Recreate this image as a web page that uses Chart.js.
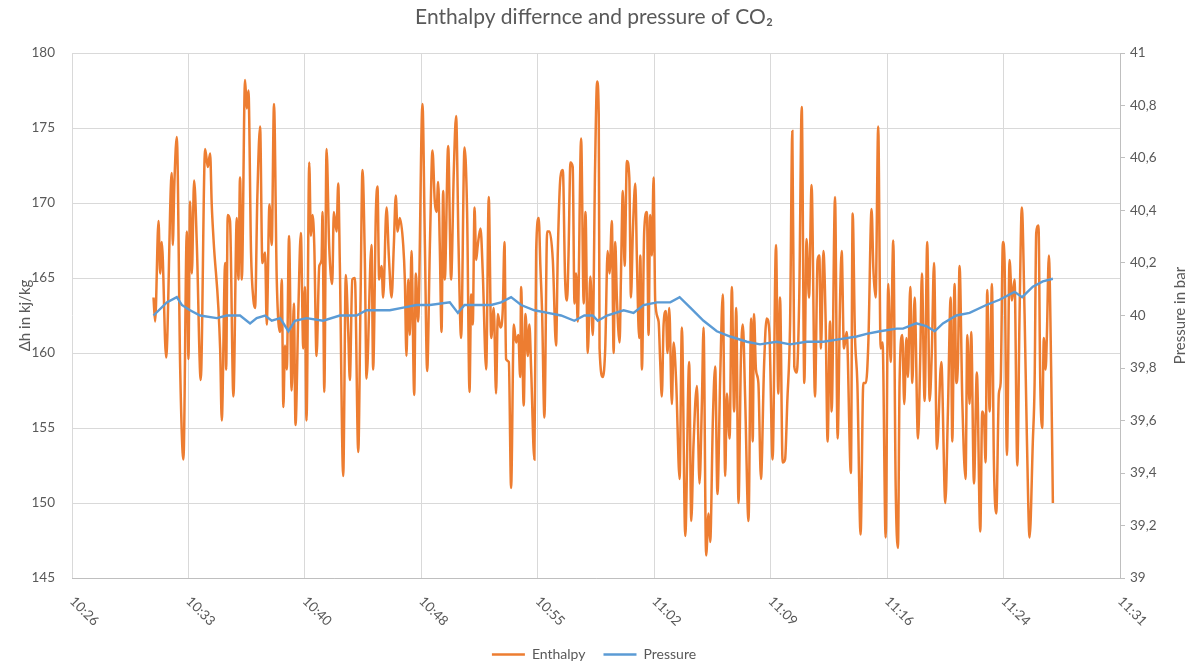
<!DOCTYPE html>
<html>
<head>
<meta charset="utf-8">
<script src="https://cdn.jsdelivr.net/npm/chart.js@4.4.1/dist/chart.umd.min.js"></script>
<style>
  html, body { margin: 0; padding: 0; background: #fff; }
  canvas { display: block; }
</style>
</head>
<body>
<canvas id="chart" width="1188" height="664"></canvas>
<script>
// times are minutes after 10:00
const enthalpyTime = [
  31.44,31.54,31.75,31.85,31.95,32.22,32.57,32.63,32.73,32.88,33.09,33.29,33.50,33.60,33.70,33.81,33.95,34.12,34.36,34.63,
  34.80,34.94,35.04,35.15,35.56,35.66,35.87,35.93,36.03,36.17,36.38,36.59,36.69,36.79,36.90,37.10,37.21,37.31,37.47,37.62,
  37.72,37.86,38.03,38.17,38.34,38.44,38.61,38.75,38.89,39.06,39.27,39.37,39.47,39.57,39.68,39.82,
  39.98,40.12,40.22,40.39,40.55,40.70,40.80,40.90,41.07,41.17,41.27,41.38,41.52,41.69,41.83,41.89,42.00,42.14,42.30,42.49,
  42.59,42.76,42.86,42.96,43.17,43.33,43.48,43.58,43.73,43.89,44.10,44.24,44.36,44.51,44.61,44.92,45.02,45.19,45.29,45.39,
  45.54,45.64,45.85,45.99,46.16,46.30,46.42,46.53,46.67,46.88,46.98,47.08,47.19,47.29,47.39,47.56,47.66,47.80,48.07,48.22,
  48.36,48.53,48.69,48.83,48.94,49.04,49.14,49.25,49.35,49.45,49.66,
  49.84,50.01,50.15,50.30,50.46,50.67,50.83,50.98,51.08,51.18,51.29,51.39,51.49,51.66,51.80,52.01,52.17,52.32,52.48,52.62,
  52.73,52.89,53.04,53.14,53.24,53.41,53.55,53.72,53.86,54.00,54.11,54.17,54.33,54.44,54.58,54.68,54.79,54.99,55.10,55.26,
  55.36,55.47,55.61,55.78,55.92,56.13,56.33,56.44,56.60,56.75,56.89,57.01,57.10,57.22,57.36,57.47,57.57,57.67,57.88,58.04,
  58.15,58.29,58.45,58.60,58.74,58.87,58.97,
  59.02,59.23,59.37,59.52,59.64,59.78,59.89,59.99,60.09,60.26,60.34,60.46,60.57,60.71,60.86,60.96,61.08,61.23,61.33,61.47,
  61.54,61.64,61.78,61.95,62.05,62.15,62.26,62.36,62.46,62.67,62.77,62.87,62.98,63.12,63.22,63.33,63.49,63.60,63.76,63.97,
  64.11,64.32,64.56,64.69,64.83,65.04,65.20,65.35,65.45,65.61,65.76,65.86,66.03,66.17,66.31,66.48,66.64,66.79,66.89,67.06,
  67.20,67.34,67.47,67.61,67.76,67.88,68.02,68.23,
  68.39,68.49,68.57,68.69,68.84,69.00,69.19,69.35,69.52,69.72,69.93,70.07,70.18,70.34,70.49,70.63,70.80,70.94,71.06,71.21,
  71.37,71.52,71.68,71.82,71.97,72.13,72.34,72.50,72.61,72.71,72.86,73.00,73.12,73.27,73.37,73.58,73.74,73.89,73.99,74.13,
  74.30,74.56,74.67,74.81,74.96,75.16,75.33,75.49,75.64,75.84,75.95,76.09,76.25,76.40,76.52,76.71,76.87,77.02,77.18,77.33,
  77.47,
  77.57,77.74,77.86,77.99,78.09,78.23,78.36,78.50,78.71,78.85,78.95,79.12,79.28,79.43,79.57,79.70,79.88,80.15,80.40,80.56,
  80.73,80.83,80.97,81.08,81.18,81.28,81.45,81.65,81.76,81.90,82.00,82.17,82.35,82.56,82.68,82.79,82.89,82.99,83.14,83.28,
  83.40,83.55,83.71,83.82,83.96,84.06,84.21,84.37,84.52,84.68,84.85,84.99,85.13,85.30,85.44,85.61,85.81,85.92,86.02,86.16,
  86.27,86.39,86.49,86.60,86.68,86.80,86.95,87.05
];
const enthalpyValue = [
  163.7,162.1,168.8,165.3,167.4,159.7,172.0,167.2,171.3,174.4,158.9,152.9,168.1,159.6,170.1,165.3,171.5,167.2,158.2,173.6,
  172.4,173.3,169.9,167.6,160.3,155.5,166.0,158.9,169.2,168.8,157.1,169.0,164.9,171.7,164.9,178.2,176.3,177.5,166.7,163.5,
  163.0,170.4,175.1,166.0,166.7,161.9,169.9,167.2,176.6,164.9,161.4,164.9,156.4,160.5,158.9,167.8,
  157.5,163.3,155.2,162.6,168.0,160.3,164.4,155.5,172.7,167.8,169.2,167.2,159.8,165.8,166.2,169.4,157.4,173.6,167.2,164.6,
  169.4,168.1,171.3,166.0,151.8,165.2,161.4,158.2,164.9,165.0,153.4,163.5,172.2,166.0,158.3,167.2,158.9,169.4,171.1,164.9,
  165.8,163.7,169.7,166.5,163.7,167.2,170.5,168.1,169.0,167.2,164.9,159.8,164.9,161.2,166.8,157.2,165.3,162.1,176.6,167.2,
  158.8,167.2,173.5,170.1,169.4,171.4,167.2,161.4,170.8,164.9,173.8,
  164.9,172.2,175.8,167.2,161.0,173.7,169.4,157.4,163.9,161.9,169.7,166.2,167.2,168.3,165.3,158.9,170.4,161.0,163.0,157.3,
  162.6,161.7,163.0,167.4,159.6,159.4,151.0,161.9,160.7,161.2,158.4,164.4,156.5,162.6,159.8,161.9,158.9,152.9,166.8,169.0,
  165.8,162.6,155.7,168.1,168.1,166.2,160.5,166.8,171.7,172.2,164.9,163.5,166.5,172.7,172.4,163.3,165.3,162.1,174.3,163.3,
  169.4,160.0,165.1,161.2,172.2,178.1,175.9,
  160.3,158.4,160.3,166.8,165.3,168.8,160.0,167.4,163.7,160.7,164.9,170.8,165.8,172.8,171.7,163.7,168.1,171.3,166.2,161.0,
  166.5,158.9,168.1,169.4,161.2,169.2,166.5,171.7,163.5,162.1,159.4,157.1,161.9,162.8,160.0,163.0,156.6,160.7,158.0,151.6,
  161.7,147.8,159.4,148.8,153.9,157.8,151.3,156.8,161.7,146.5,149.3,147.4,155.7,159.1,150.6,158.4,163.9,151.8,157.3,154.3,
  164.4,156.1,163.0,150.0,159.6,161.9,157.1,148.8,
  162.3,154.1,162.6,158.9,158.0,151.6,159.1,162.3,161.4,152.9,167.2,157.3,163.7,152.7,152.9,156.8,161.9,174.8,159.1,158.7,
  163.9,176.4,158.0,167.6,163.7,171.2,157.1,166.2,166.5,160.3,166.8,162.1,154.1,162.1,156.1,170.4,154.3,163.5,166.8,160.3,
  161.4,152.0,169.3,161.2,158.0,147.9,158.0,158.0,160.7,169.6,165.6,163.7,175.1,160.3,160.7,147.7,164.6,159.4,167.5,151.1,
  147.0,
  158.0,161.2,156.6,161.0,158.4,164.4,158.0,163.7,154.3,159.8,165.3,156.8,167.4,156.8,160.3,166.0,153.6,159.4,150.0,156.1,
  163.7,154.1,164.6,158.0,159.4,165.8,156.8,151.6,161.2,156.6,161.4,151.3,158.7,148.1,156.1,155.7,152.7,164.2,156.1,164.6,
  152.9,149.3,157.3,158.0,167.4,166.2,153.2,166.2,163.5,164.9,152.5,162.6,169.7,162.6,154.5,147.7,154.1,158.0,168.0,168.5,
  158.0,155.0,161.0,158.9,161.2,166.5,158.4,150.0
];

const pressureTime = [
  31.44,32.26,32.88,33.19,33.70,34.32,35.35,35.97,36.79,37.41,37.82,38.34,38.75,39.27,39.78,40.18,40.90,41.93,42.96,43.99,
  44.61,45.23,46.05,46.88,47.70,48.53,49.76,50.26,50.67,52.32,52.93,53.55,54.17,54.99,55.82,56.64,57.46,58.08,58.60,58.91,
  59.48,60.51,61.12,61.74,62.57,63.39,63.97,64.63,65.45,66.27,67.10,68.13,68.94,69.97,70.80,71.82,72.86,73.89,74.92,75.53,
  76.36,77.39,77.78,78.60,79.22,79.74,80.25,81.08,81.90,82.93,83.75,84.68,85.15,85.81,86.43,87.05
];
const pressureValue = [
  40.00,40.05,40.07,40.04,40.02,40.00,39.99,40.00,40.00,39.97,39.99,40.00,39.98,39.99,39.94,39.98,39.99,39.98,40.00,40.00,
  40.02,40.02,40.02,40.03,40.04,40.04,40.05,40.01,40.04,40.04,40.05,40.07,40.04,40.02,40.01,40.00,39.98,40.00,40.00,39.98,
  40.00,40.02,40.01,40.04,40.05,40.05,40.07,40.03,39.98,39.94,39.92,39.90,39.89,39.90,39.89,39.90,39.90,39.91,39.92,39.93,
  39.94,39.95,39.95,39.97,39.96,39.94,39.97,40.00,40.01,40.04,40.06,40.09,40.07,40.11,40.13,40.14
];

const seriesNames = ['Enthalpy', 'Pressure'];
const chartTitle = 'Enthalpy differnce and pressure of CO\u2082';
const leftTitle = '\u0394h in kj/kg';
const rightTitle = 'Pressure in bar';

const textColor = '#595959';
const fontFamily = 'Lato, "Open Sans", sans-serif';

function timeLabel(m) {
  const total = 600 + m + 1e-6;
  const h = Math.floor(total / 60);
  const mm = Math.floor(total % 60);
  return h + ':' + String(mm).padStart(2, '0');
}

// x tick labels run down to the right, and both axis titles read bottom-up
const extraText = {
  id: 'extraText',
  afterDraw(chart) {
    const {ctx, chartArea, scales} = chart;
    ctx.save();
    ctx.fillStyle = textColor;
    ctx.font = '13.5px ' + fontFamily;
    ctx.textAlign = 'left';
    ctx.textBaseline = 'middle';
    scales.x.ticks.forEach(tick => {
      const px = scales.x.getPixelForValue(tick.value);
      ctx.save();
      ctx.translate(px, chartArea.bottom + 21);
      ctx.rotate(Math.PI / 4);
      ctx.fillText(timeLabel(tick.value), 0, 0);
      ctx.restore();
    });

    const midY = (chartArea.top + chartArea.bottom) / 2;
    ctx.textAlign = 'center';
    ctx.font = '15px ' + fontFamily;
    ctx.save();
    ctx.translate(25, midY);
    ctx.rotate(-Math.PI / 2);
    ctx.fillText(leftTitle, 0, 0);
    ctx.restore();

    ctx.save();
    ctx.translate(1180, midY);
    ctx.rotate(-Math.PI / 2);
    ctx.fillText(rightTitle, 0, 0);
    ctx.restore();
    ctx.restore();
  }
};

const ctx = document.getElementById('chart').getContext('2d');
new Chart(ctx, {
  type: 'line',
  data: {
    datasets: [{
      label: seriesNames[0],
      data: enthalpyTime.map((t, i) => ({x: t, y: enthalpyValue[i]})),
      borderColor: '#ED7D31',
      backgroundColor: '#ED7D31',
      borderWidth: 2.5,
      pointRadius: 0,
      cubicInterpolationMode: 'monotone',
      yAxisID: 'y',
      order: 1
    }, {
      label: seriesNames[1],
      data: pressureTime.map((t, i) => ({x: t, y: pressureValue[i]})),
      borderColor: '#5B9BD5',
      backgroundColor: '#5B9BD5',
      borderWidth: 2.4,
      pointRadius: 0,
      tension: 0,
      yAxisID: 'y1',
      order: 0
    }]
  },
  options: {
    responsive: false,
    animation: false,
    devicePixelRatio: 1,
    layout: { padding: { top: 0, left: 0, right: 0, bottom: -7.5 } },
    plugins: {
      title: {
        display: true,
        text: chartTitle,
        color: textColor,
        font: { size: 21, family: fontFamily, weight: 'normal' },
        padding: { top: 5, bottom: 22.8 }
      },
      legend: {
        position: 'bottom',
        labels: {
          usePointStyle: true,
          pointStyle: 'line',
          pointStyleWidth: 33,
          color: textColor,
          font: { size: 14, family: fontFamily },
          padding: 18,
          sort: (a, b) => a.datasetIndex - b.datasetIndex
        }
      },
      tooltip: { enabled: false }
    },
    scales: {
      x: {
        type: 'linear',
        min: 26.4,
        max: 91.2,
        ticks: { stepSize: 7.2, display: false },
        grid: { color: '#d9d9d9', drawTicks: false },
        border: { color: '#bfbfbf' },
        afterFit: s => { s.height = 51.5; }
      },
      y: {
        position: 'left',
        min: 145,
        max: 180,
        ticks: { stepSize: 5, padding: 17, color: textColor, font: { size: 13.5, family: fontFamily } },
        grid: { color: '#d9d9d9', drawTicks: false },
        border: { display: false },
        afterFit: s => { s.width = 72; }
      },
      y1: {
        position: 'right',
        min: 39,
        max: 41,
        ticks: {
          stepSize: 0.2,
          padding: 5,
          color: textColor,
          font: { size: 13.5, family: fontFamily },
          callback: v => String(Math.round(v * 10) / 10).replace('.', ',')
        },
        grid: { drawOnChartArea: false, drawTicks: true, tickLength: 5, color: '#bfbfbf' },
        border: { color: '#bfbfbf' },
        afterFit: s => { s.width = 68; }
      }
    }
  },
  plugins: [extraText]
});
</script>
</body>
</html>
